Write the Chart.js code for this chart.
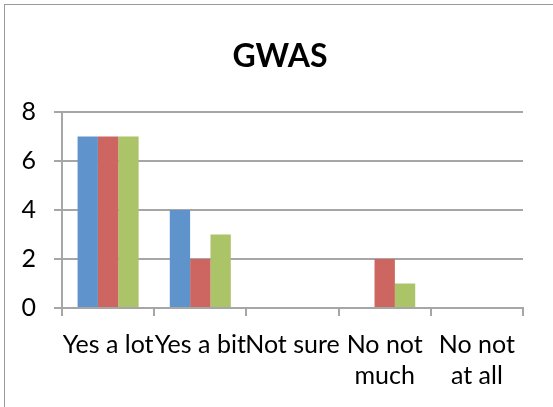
<!DOCTYPE html>
<html>
<head>
<meta charset="utf-8">
<script src="https://cdn.jsdelivr.net/npm/chart.js@4.4.1/dist/chart.umd.min.js"></script>
<style>
  html, body { margin: 0; padding: 0; background: #fff; }
  #wrap { position: relative; width: 553px; height: 407px; overflow: hidden; }
  #frame { position: absolute; left: 4px; top: 4px; width: 600px; height: 500px;
           border-left: 1.5px solid #9a9a9a; border-top: 1.5px solid #9a9a9a; box-sizing: border-box; pointer-events: none; }
  canvas { position: absolute; left: 0; top: 0; }
</style>
</head>
<body>
<div id="wrap">
  <canvas id="c" width="553" height="407"></canvas>
  <div id="frame"></div>
</div>
<script>
const chartTitle = "GWAS";
const categories = ["Yes a lot", "Yes a bit", "Not sure", ["No not", "much"], ["No not", "at all"]];
const series1 = [7, 4, 0, 0, 0];
const series2 = [7, 2, 0, 2, 0];
const series3 = [7, 3, 0, 1, 0];
const yTicks = [0, 2, 4, 6, 8];

const FONT = "Lato, 'Open Sans', sans-serif";
const gridColor = "#a6a6a6";

new Chart(document.getElementById("c"), {
  type: "bar",
  data: {
    labels: categories,
    datasets: [
      { label: "Series1", data: series1, backgroundColor: "#5e94cb", borderWidth: 0 },
      { label: "Series2", data: series2, backgroundColor: "#cd6660", borderWidth: 0 },
      { label: "Series3", data: series3, backgroundColor: "#abc468", borderWidth: 0 }
    ]
  },
  options: {
    responsive: false,
    animation: false,
    devicePixelRatio: 1,
    layout: { padding: { left: 7, right: 0, top: 0, bottom: 0 } },
    datasets: { bar: { categoryPercentage: 0.662, barPercentage: 1.0 } },
    plugins: {
      legend: { display: false },
      tooltip: { enabled: false },
      title: {
        display: true,
        text: chartTitle,
        color: "#000",
        font: { family: FONT, size: 32, weight: "bold", lineHeight: 1.2 },
        padding: { top: 37, bottom: 36.6 }
      }
    },
    scales: {
      x: {
        offset: true,
        grid: { display: true, drawOnChartArea: false, offset: true, color: gridColor, lineWidth: 2, tickLength: 8 },
        border: { display: true, color: gridColor, width: 2 },
        ticks: { color: "#000", font: { family: FONT, size: 25, lineHeight: 1.24 }, autoSkip: false, maxRotation: 0, minRotation: 0, padding: 13 },
        afterFit: (s) => { s.height = 99; }
      },
      y: {
        min: 0, max: 8,
        afterBuildTicks: (s) => { s.ticks = yTicks.map(v => ({ value: v })); },
        grid: { color: gridColor, lineWidth: 2, tickLength: 8 },
        border: { display: true, color: gridColor, width: 2 },
        ticks: { color: "#000", font: { family: FONT, size: 25 }, padding: 18 },
        afterFit: (s) => { s.width = 55; }
      },
      yr: {
        position: "right",
        display: true,
        grid: { display: false },
        border: { display: false },
        ticks: { display: false },
        afterFit: (s) => { s.width = 30; }
      }
    }
  }
});
</script>
</body>
</html>
